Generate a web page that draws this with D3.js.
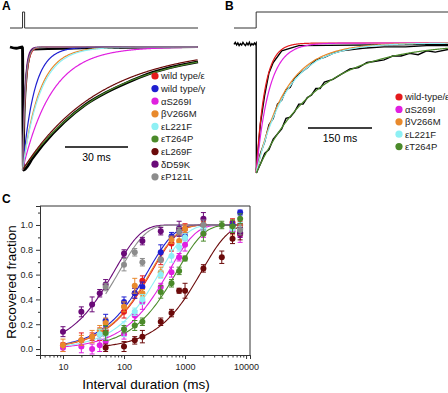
<!DOCTYPE html>
<html>
<head>
<meta charset="utf-8">
<script src="https://cdn.jsdelivr.net/npm/d3@7"></script>
<style>
  body { margin: 0; background: #fff; }
  svg { display: block; font-family: "Liberation Sans", Arial, sans-serif; }
</style>
</head>
<body>
<svg id="fig" width="448" height="393"></svg>
<script>
// ---- panel A / B: fitted decay time constants (ms)
const namesA = ['wild type/\u03b5', 'wild type/\u03b3', '\u03b1S269I', '\u03b2V266M', '\u03b5L221F', '\u03b5T264P', '\u03b5L269F', '\u03b4D59K', '\u03b5P121L']
const colorsA = ['#e41a1c', '#1f1fd0', '#e020e0', '#e8892c', '#8ef0f4', '#4b8a2a', '#6b0a0a', '#6a0a78', '#8c8c8c']
const tauA = [1.4, 5.5, 14, 8, 8.5, 40, 37, 1.1, 1.3]

const namesB = ['wild-type/\u03b5', '\u03b1S269I', '\u03b2V266M', '\u03b5L221F', '\u03b5T264P']
const colorsB = ['#e41a1c', '#e020e0', '#e8892c', '#8ef0f4', '#4b8a2a']
const tauB = [20, 30, 68, 72, 140]

// raw (black) traces, normalised current vs time (ms)
const rawA = [[-6, 0], [-3, -0.01], [0, 0], [0.4, -1], [5, -0.9], [10, -0.79], [20, -0.61], [30, -0.47], [40, -0.37], [50, -0.29], [60, -0.22], [70, -0.17], [84, -0.12]]
const rawAfast = [[0, 0], [0.2, -0.98], [1, -0.5], [2, -0.22], [3, -0.1], [5, -0.02], [84, 0]]
const rawBpre = [[-52, -0.01], [-49, 0.005], [-46, -0.015], [-43, 0], [-40, -0.02], [-37, -0.005], [-34, -0.015], [-31, 0.005], [-28, -0.01],
    [-25, -0.02], [-22, 0], [-19, -0.015], [-16, 0.005], [-13, -0.02], [-10, -0.005], [-7, -0.015], [-4, 0], [-2, -0.01], [0, 0], [0.5, -1]]
const rawBslow = [[0.5, -1], [10, -0.93], [20, -0.85], [30, -0.82], [40, -0.74], [50, -0.7], [60, -0.66], [70, -0.58], [80, -0.57], [90, -0.53], [100, -0.47],
    [110, -0.47], [120, -0.42], [130, -0.4], [140, -0.35], [150, -0.35], [160, -0.3], [180, -0.28], [200, -0.24], [220, -0.2], [240, -0.19],
    [260, -0.15], [280, -0.14], [300, -0.13], [320, -0.1], [340, -0.1], [360, -0.08], [380, -0.09], [400, -0.06], [420, -0.07], [450, -0.05]]
const rawBmid = [[0.5, -1], [10, -0.85], [20, -0.76], [30, -0.63], [40, -0.58], [50, -0.47], [60, -0.44], [70, -0.36], [80, -0.34], [90, -0.27], [100, -0.24],
    [120, -0.19], [140, -0.13], [160, -0.11], [180, -0.08], [200, -0.06], [250, -0.04], [300, -0.03], [350, -0.03], [400, -0.02], [450, -0.02]]
const rawBfast = [[0.5, -0.98], [10, -0.62], [20, -0.4], [30, -0.23], [40, -0.15], [60, -0.06], [100, -0.02], [450, -0.01]]

// stimulus protocols (0 = holding, 1 = pulse)
const stimA = [[-6, 0], [0, 0], [0, 1], [1, 1], [1, 0], [84, 0]]
const stimB = [[-52, 0], [0, 0], [0, 1], [450, 1]]

// ---- panel C: recovery data
const intervals = [10, 20, 30, 40, 50, 100, 150, 200, 400, 600, 800, 1000, 2000, 4000, 6000, 8000]
const recWtE = [0.03, 0.07, 0.10, 0.12, 0.15, 0.30, 0.45, 0.55, 0.72, 0.85, 0.95, 0.97, 1.00, null, 1.02, 1.00]
const recWtG = [null, null, null, null, 0.23, 0.38, 0.45, 0.50, 0.78, 0.91, 0.95, 0.91, 1.00, null, 1.00, 1.10]
const recS269I = [0.01, 0.02, 0.00, 0.03, 0.06, 0.12, 0.27, 0.38, 0.50, 0.62, 0.74, 0.84, 0.93, null, 0.95, 0.92]
const recV266M = [0.03, 0.07, 0.10, 0.15, 0.21, 0.34, 0.51, 0.45, 0.62, 0.88, 0.87, 0.97, 1.00, null, 0.98, 0.97]
const recL221F = [null, null, null, 0.12, 0.12, 0.16, 0.30, 0.40, 0.60, 0.75, 0.82, 0.90, 0.97, null, 0.97, 0.97]
const recT264P = [null, null, null, null, 0.13, 0.16, 0.19, 0.22, 0.46, 0.53, 0.63, 0.73, 0.93, 1.00, 0.99, 1.05]
const recL269F = [null, null, null, null, 0.01, 0.02, 0.07, 0.10, 0.22, 0.29, 0.47, 0.47, 0.65, 0.74, 0.89, 0.93]
const recD59K = [0.14, 0.30, 0.36, 0.45, 0.52, 0.77, null, 0.87, 0.95, null, 0.97, null, 1.05, null, null, 0.94]
const recP121L = [null, null, null, null, 0.50, 0.68, 0.78, 0.70, 0.72, null, 0.95, null, 1.00, null, null, 0.96]
const semC = [0.02, 0.06, 0.03, 0.05, 0.04, 0.05, 0.04, 0.04, 0.04, 0.06, 0.03, 0.04, 0.03, 0.05, 0.03, 0.03]
const tauC = [290, 250, 550, 280, 400, 750, 1900, 70, 85]
const fitStart = [10, 10, 10, 10, 10, 50, 50, 10, 50]

const recC = [recWtE, recWtG, recS269I, recV266M, recL221F, recT264P, recL269F, recD59K, recP121L]

const svg = d3.select('#fig')

const panelLabel = (x, y, t) => svg.append('text')
    .attr('x', x).attr('y', y)
    .attr('font-weight', 'bold')
    .attr('font-size', 12)
    .text(t)

const lineOf = (xs, ys) => d3.line().x(d => xs(d[0])).y(d => ys(d[1]))

const expTrace = (tau, tEnd, step) => {
    const pts = []
    for (let t = 0; t <= tEnd; t += step) pts.push([t, -Math.exp(-t / tau)])
    return pts
}

const drawLegend = (x, y0, dy, names, colors) => {
    names.forEach((n, i) => {
        svg.append('circle')
            .attr('cx', x).attr('cy', y0 + i * dy)
            .attr('r', 3.6)
            .attr('fill', colors[i])
        svg.append('text')
            .attr('x', x + 6).attr('y', y0 + i * dy + 3.4)
            .attr('font-size', 9.5)
            .attr('fill', '#222')
            .text(n)
    })
}

const scaleBar = (x1, x2, y, label) => {
    svg.append('line')
        .attr('x1', x1).attr('x2', x2)
        .attr('y1', y).attr('y2', y)
        .attr('stroke', '#000').attr('stroke-width', 1.6)
    svg.append('text')
        .attr('x', (x1 + x2) / 2).attr('y', y + 14)
        .attr('text-anchor', 'middle')
        .attr('font-size', 10.5)
        .text(label)
}

// ================= Panel A
panelLabel(2, 10, 'A')
const xA = d3.scaleLinear().domain([-6, 84]).range([10, 198])
const yA = d3.scaleLinear().domain([-1, 0]).range([170, 47])
const yStimA = d3.scaleLinear().domain([0, 1]).range([28, 12])

svg.append('path').datum(stimA)
    .attr('d', lineOf(xA, yStimA))
    .attr('fill', 'none').attr('stroke', '#333').attr('stroke-width', 1)

svg.append('path').datum(rawA)
    .attr('d', lineOf(xA, yA).curve(d3.curveMonotoneX))
    .attr('fill', 'none').attr('stroke', '#000').attr('stroke-width', 2.8)
svg.append('path').datum(rawAfast)
    .attr('d', lineOf(xA, yA).curve(d3.curveMonotoneX))
    .attr('fill', 'none').attr('stroke', '#000').attr('stroke-width', 2)

tauA.forEach((tau, i) => {
    svg.append('path').datum(expTrace(tau, 84, 0.2))
        .attr('d', lineOf(xA, yA))
        .attr('fill', 'none')
        .attr('stroke', colorsA[i])
        .attr('stroke-width', 1.2)
})
scaleBar(65, 128, 147, '30 ms')
drawLegend(155, 76, 12.6, namesA, colorsA)

// ================= Panel B
panelLabel(225, 10, 'B')
const xB = d3.scaleLinear().domain([-52, 450]).range([234, 448])
const yB = d3.scaleLinear().domain([-1, 0]).range([173, 43])
const yStimB = d3.scaleLinear().domain([0, 1]).range([28, 12])

svg.append('path').datum(stimB)
    .attr('d', lineOf(xB, yStimB))
    .attr('fill', 'none').attr('stroke', '#333').attr('stroke-width', 1)

;[rawBpre, rawBslow, rawBmid, rawBfast].forEach(raw => {
    svg.append('path').datum(raw)
        .attr('d', lineOf(xB, yB))
        .attr('fill', 'none').attr('stroke', '#000').attr('stroke-width', 1.4)
})

tauB.forEach((tau, i) => {
    svg.append('path').datum(expTrace(tau, 450, 1))
        .attr('d', lineOf(xB, yB))
        .attr('fill', 'none')
        .attr('stroke', colorsB[i])
        .attr('stroke-width', 1.2)
})
scaleBar(308, 372, 128, '150 ms')
drawLegend(399, 97, 12.4, namesB, colorsB)

// ================= Panel C
panelLabel(2, 203, 'C')
const xC = d3.scaleLog().domain([4.2, 11600]).range([40, 250])
const yC = d3.scaleLinear().domain([-0.048, 1.153]).range([355, 206])

const gC = svg.append('g')

// frame (top + right)
gC.append('path')
    .attr('d', 'M40,206H250V355')
    .attr('fill', 'none').attr('stroke', '#333').attr('stroke-width', 1)

const yAxis = d3.axisLeft(yC).tickValues([0, 0.2, 0.4, 0.6, 0.8, 1.0])
    .tickFormat(d3.format('.1f')).tickSize(4).tickPadding(3)
gC.append('g').attr('transform', 'translate(40,0)').call(yAxis)
gC.append('g').attr('transform', 'translate(40,0)')
    .call(d3.axisLeft(yC).tickValues([0.1, 0.3, 0.5, 0.7, 0.9, 1.1]).tickFormat('').tickSize(2))

const minor = []
for (let e = 0; e <= 4; e++) for (let m = 2; m <= 9; m++) {
    const v = m * Math.pow(10, e)
    if (v >= 4.2 && v <= 11600) minor.push(v)
}
gC.append('g').attr('transform', 'translate(0,355)')
    .call(d3.axisBottom(xC).tickValues(minor).tickFormat('').tickSize(2.5))
gC.append('g').attr('transform', 'translate(0,355)')
    .call(d3.axisBottom(xC).tickValues([10, 100, 1000, 10000]).tickFormat(d3.format('d')).tickSize(4).tickPadding(5))

gC.selectAll('.domain').attr('stroke', '#333')
gC.selectAll('.tick line').attr('stroke', '#333')
gC.selectAll('.tick text').attr('font-size', 9).attr('fill', '#222').attr('font-family', '"Liberation Sans", Arial, sans-serif')

gC.append('text')
    .attr('transform', 'translate(16,282) rotate(-90)')
    .attr('text-anchor', 'middle')
    .attr('font-size', 13.5)
    .text('Recovered fraction')
gC.append('text')
    .attr('x', 146).attr('y', 389)
    .attr('text-anchor', 'middle')
    .attr('font-size', 13.5)
    .text('Interval duration (ms)')

// fitted curves
tauC.forEach((tau, i) => {
    const pts = []
    for (let lt = Math.log10(fitStart[i]); lt <= Math.log10(8000) + 1e-9; lt += 0.02) {
        const t = Math.pow(10, lt)
        pts.push([t, 1 - Math.exp(-t / tau)])
    }
    gC.append('path').datum(pts)
        .attr('d', lineOf(xC, yC))
        .attr('fill', 'none')
        .attr('stroke', colorsA[i])
        .attr('stroke-width', 1.1)
})

// points with error bars
recC.forEach((vals, i) => {
    const pts = intervals.map((t, j) => ({t, v: vals[j], e: semC[(j + i) % semC.length]}))
        .filter(d => d.v !== null)
    const g = gC.append('g')
    g.selectAll('line.err').data(pts).join('line')
        .attr('x1', d => xC(d.t)).attr('x2', d => xC(d.t))
        .attr('y1', d => yC(d.v - d.e)).attr('y2', d => yC(d.v + d.e))
        .attr('stroke', colorsA[i]).attr('stroke-width', 1)
    g.selectAll('line.capT').data(pts).join('line')
        .attr('x1', d => xC(d.t) - 2.5).attr('x2', d => xC(d.t) + 2.5)
        .attr('y1', d => yC(d.v + d.e)).attr('y2', d => yC(d.v + d.e))
        .attr('stroke', colorsA[i]).attr('stroke-width', 1)
    g.selectAll('line.capB').data(pts).join('line')
        .attr('x1', d => xC(d.t) - 2.5).attr('x2', d => xC(d.t) + 2.5)
        .attr('y1', d => yC(d.v - d.e)).attr('y2', d => yC(d.v - d.e))
        .attr('stroke', colorsA[i]).attr('stroke-width', 1)
    g.selectAll('circle').data(pts).join('circle')
        .attr('cx', d => xC(d.t)).attr('cy', d => yC(d.v))
        .attr('r', 3)
        .attr('fill', colorsA[i])
})
</script>
</body>
</html>
